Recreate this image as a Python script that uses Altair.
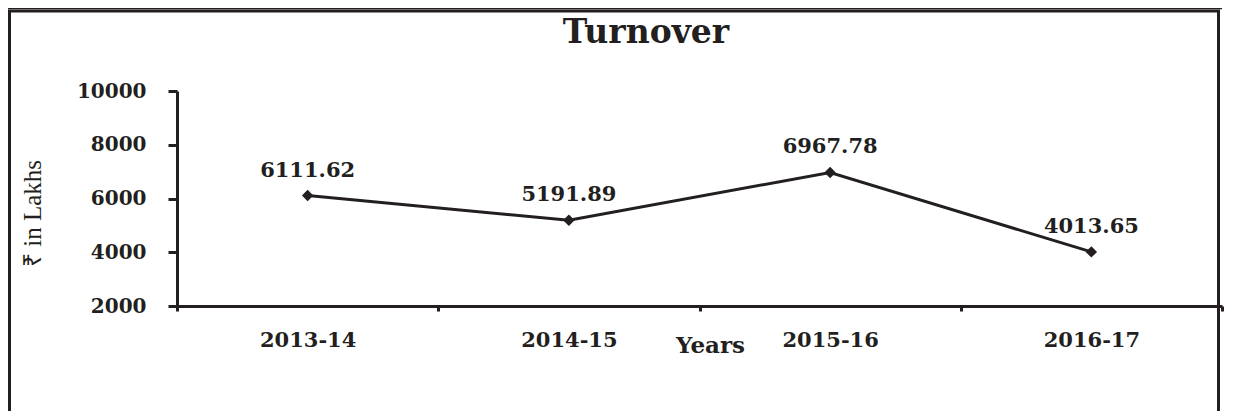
import altair as alt
import pandas as pd

years = ["2013-14", "2014-15", "2015-16", "2016-17"]
turnover = [6111.62, 5191.89, 6967.78, 4013.65]
y_ticks = [2000, 4000, 6000, 8000, 10000]

df = pd.DataFrame({"year": years, "turnover": turnover})
df["label"] = [f"{v:.2f}" for v in turnover]

SERIF = "DejaVu Serif"
INK = "#231f20"
W, H = 1045, 215

x_enc = alt.X(
    "year:N", sort=years, bandPosition=0.5,
    scale=alt.Scale(type="band", paddingInner=0, paddingOuter=0),
    axis=alt.Axis(
        title="Years", titleX=533, titleY=46, titleAlign="center", titleBaseline="alphabetic",
        titleFont=SERIF, titleFontSize=23, titleFontWeight="bold", titleColor=INK,
        labelAngle=0, labelFont=SERIF, labelFontSize=21, labelFontWeight="bold",
        labelColor=INK, labelPadding=18, labelBaseline="top",
        tickBand="extent", tickSize=5, tickWidth=3, tickColor=INK,
        domainWidth=3, domainColor=INK, grid=False,
    ),
)
y_enc = alt.Y(
    "turnover:Q",
    scale=alt.Scale(domain=[2000, 10000], nice=False, zero=False),
    axis=alt.Axis(
        values=y_ticks, format="d",
        title="₹ in Lakhs", titleX=-145, titleY=122, titleAngle=270,
        titleAlign="center", titleBaseline="middle",
        titleFont="Liberation Serif, serif",
        titleFontSize=25, titleFontWeight="normal", titleColor=INK,
        labelFont=SERIF, labelFontSize=20, labelFontWeight="bold", labelColor=INK,
        labelPadding=22, tickSize=9, tickWidth=3, tickColor=INK,
        domainWidth=3, domainColor=INK, grid=False,
    ),
)

base = alt.Chart(df).encode(x=x_enc, y=y_enc)

line = base.mark_line(color=INK, strokeWidth=3)
points = base.mark_point(shape="diamond", filled=True, size=130, color=INK, opacity=1)
labels = base.mark_text(
    baseline="alphabetic", dy=-19, font=SERIF, fontSize=21, fontWeight="bold", color=INK
).encode(text="label:N")

frame_df = pd.DataFrame({"t": ["Turnover"]})
frame = alt.Chart(frame_df).mark_rect(
    fillOpacity=0, stroke=INK, strokeWidth=3
).encode(
    x=alt.value(-167.5), x2=alt.value(1041.5), y=alt.value(-80), y2=alt.value(330)
)
topline = alt.Chart(frame_df).mark_rule(color=INK, strokeWidth=1.5).encode(
    x=alt.value(-169), x2=alt.value(1045), y=alt.value(-82.5)
)
title = alt.Chart(frame_df).mark_text(
    font=SERIF, fontSize=33, fontWeight="bold", color=INK, baseline="alphabetic"
).encode(x=alt.value(469), y=alt.value(-48), text="t:N")

chart = alt.layer(frame, topline, title, line, points, labels).properties(
    width=W, height=H,
    autosize=alt.AutoSizeParams(type="none"),
    padding={"left": 169, "top": 83, "right": 6, "bottom": 105},
    background="white",
).configure_view(stroke=None)

chart.save("out.html", embed_options={"renderer": "svg", "actions": False})
